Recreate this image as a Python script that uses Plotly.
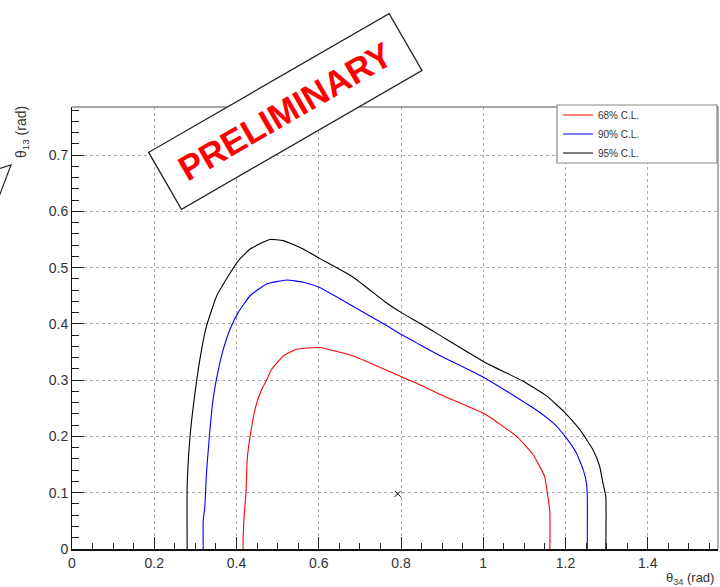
import plotly.graph_objects as go

# ---------------- data ----------------
cl95_x = [0.280, 0.280, 0.287, 0.295, 0.311, 0.327, 0.352, 0.380, 0.404, 0.433, 0.481, 0.514,
          0.562, 0.603, 0.684, 0.765, 0.801, 0.846, 0.894, 1.006, 1.097, 1.154, 1.199, 1.235,
          1.267, 1.283, 1.291, 1.298, 1.298]
cl95_y = [0.000, 0.111, 0.200, 0.254, 0.337, 0.396, 0.450, 0.485, 0.512, 0.533, 0.550, 0.548,
          0.533, 0.516, 0.483, 0.437, 0.420, 0.401, 0.380, 0.331, 0.298, 0.272, 0.242, 0.212,
          0.176, 0.147, 0.117, 0.093, 0.000]

cl90_x = [0.319, 0.319, 0.323, 0.327, 0.334, 0.343, 0.356, 0.368, 0.384, 0.404, 0.433, 0.473,
          0.522, 0.562, 0.601, 0.684, 0.765, 0.801, 0.846, 0.894, 1.006, 1.121, 1.170, 1.199,
          1.226, 1.243, 1.251, 1.253, 1.253]
cl90_y = [0.000, 0.050, 0.075, 0.135, 0.200, 0.266, 0.319, 0.355, 0.390, 0.420, 0.450, 0.471,
          0.478, 0.474, 0.465, 0.431, 0.397, 0.381, 0.363, 0.344, 0.303, 0.251, 0.224, 0.200,
          0.171, 0.141, 0.117, 0.093, 0.000]

cl68_x = [0.416, 0.416, 0.418, 0.423, 0.426, 0.433, 0.447, 0.461, 0.473, 0.485, 0.514, 0.546,
          0.601, 0.684, 0.801, 0.846, 0.894, 1.006, 1.081, 1.121, 1.149, 1.156, 1.162, 1.162]
cl68_y = [0.000, 0.016, 0.052, 0.100, 0.159, 0.200, 0.254, 0.283, 0.300, 0.319, 0.343, 0.355,
          0.358, 0.343, 0.306, 0.292, 0.275, 0.239, 0.200, 0.168, 0.129, 0.099, 0.064, 0.000]

bestfit_x = [0.792]
bestfit_y = [0.098]

series_names = ["68% C.L.", "90% C.L.", "95% C.L."]
series_colors = ["#ff0000", "#0000ff", "#000000"]

x_title = "θ<sub>34</sub> (rad)"
y_title = "θ<sub>13</sub> (rad)"
stamp_text = "<b>PRELIMINARY</b>"

FONT = "Liberation Sans, Arial, Helvetica, sans-serif"

# ---------------- figure ----------------
fig = go.Figure()
for xs, ys, name, col in zip([cl68_x, cl90_x, cl95_x], [cl68_y, cl90_y, cl95_y],
                             series_names, series_colors):
    fig.add_trace(go.Scatter(x=xs, y=ys, mode="lines", name=name,
                             line=dict(color=col, width=1.1, shape="spline", smoothing=0.4),
                             hoverinfo="skip"))

fig.add_trace(go.Scatter(x=bestfit_x, y=bestfit_y, mode="markers", showlegend=False,
                         marker=dict(symbol="x-thin", size=6, line=dict(color="#000", width=1)),
                         hoverinfo="skip"))

L, R, T, B = 72, 2, 107, 38
W, H = 720, 587
pw, ph = W - L - R, H - T - B


def px(xp):
    return (xp - L) / pw


def py(yp):
    return (H - B - yp) / ph


axis_common = dict(
    showline=True, linecolor="#111", ticks="inside", tickcolor="#222",
    showgrid=True, gridcolor="#ababab", griddash="dot", gridwidth=1,
    zeroline=False, tickfont=dict(family=FONT, size=14, color="#333"),
)

fig.update_xaxes(range=[0, 1.5708], tick0=0, dtick=0.2, ticklen=12, tickwidth=1,
                 linewidth=2,
                 minor=dict(dtick=0.05, ticklen=6, ticks="inside", tickcolor="#222",
                            showgrid=False),
                 **axis_common)
fig.update_yaxes(range=[0, 0.7854], tick0=0, dtick=0.1, ticklen=12, tickwidth=1,
                 linewidth=1,
                 minor=dict(dtick=0.02, ticklen=7, ticks="inside", tickcolor="#222",
                            showgrid=False),
                 **axis_common)

shapes = [
    # frame top / right
    dict(type="path", xref="paper", yref="paper", path="M 0 1 L 1 1 L 1 0",
         line=dict(color="#888", width=1.3), layer="above"),
    # legend box
    dict(type="rect", xref="paper", yref="paper",
         x0=px(557), x1=px(717), y0=py(163), y1=py(105),
         fillcolor="white", line=dict(color="#888", width=1.2), layer="above"),
    # corner of a neighbouring stamp box, cut by the left page edge
    dict(type="path", xref="paper", yref="paper",
         path=f"M {px(-3)} {py(169.4)} L {px(11)} {py(165)} L {px(-3)} {py(202)}",
         line=dict(color="#222", width=1.2), layer="above"),
]

annotations = [
    dict(text=y_title, xref="paper", yref="paper", x=px(22), y=py(104),
         xanchor="center", yanchor="top", textangle=-90, showarrow=False,
         font=dict(family=FONT, size=14, color="#333")),
    dict(text=x_title, xref="paper", yref="paper", x=px(716), y=py(578),
         xanchor="right", yanchor="middle", showarrow=False,
         font=dict(family=FONT, size=13, color="#333")),
    dict(text=stamp_text, xref="paper", yref="paper", x=px(285.2), y=py(111.8),
         xanchor="center", yanchor="middle", textangle=-30, showarrow=False,
         width=270, height=58, borderpad=3, borderwidth=1.3,
         bordercolor="#222", bgcolor="white",
         font=dict(family=FONT, size=35, color="#ff0000")),
]

fig.update_layout(
    width=W, height=H, autosize=False,
    margin=dict(l=L, r=R, t=T, b=B, pad=0),
    paper_bgcolor="white", plot_bgcolor="white",
    font=dict(family=FONT, color="#333"),
    shapes=shapes, annotations=annotations,
    showlegend=True,
    legend=dict(x=px(558), y=py(100.5), xanchor="left", yanchor="top",
                bgcolor="rgba(0,0,0,0)", borderwidth=0,
                font=dict(family=FONT, size=10, color="#333"),
                itemwidth=30, tracegroupgap=0),
    hovermode=False,
)

fig.write_html("out.html", config={"displayModeBar": False})
